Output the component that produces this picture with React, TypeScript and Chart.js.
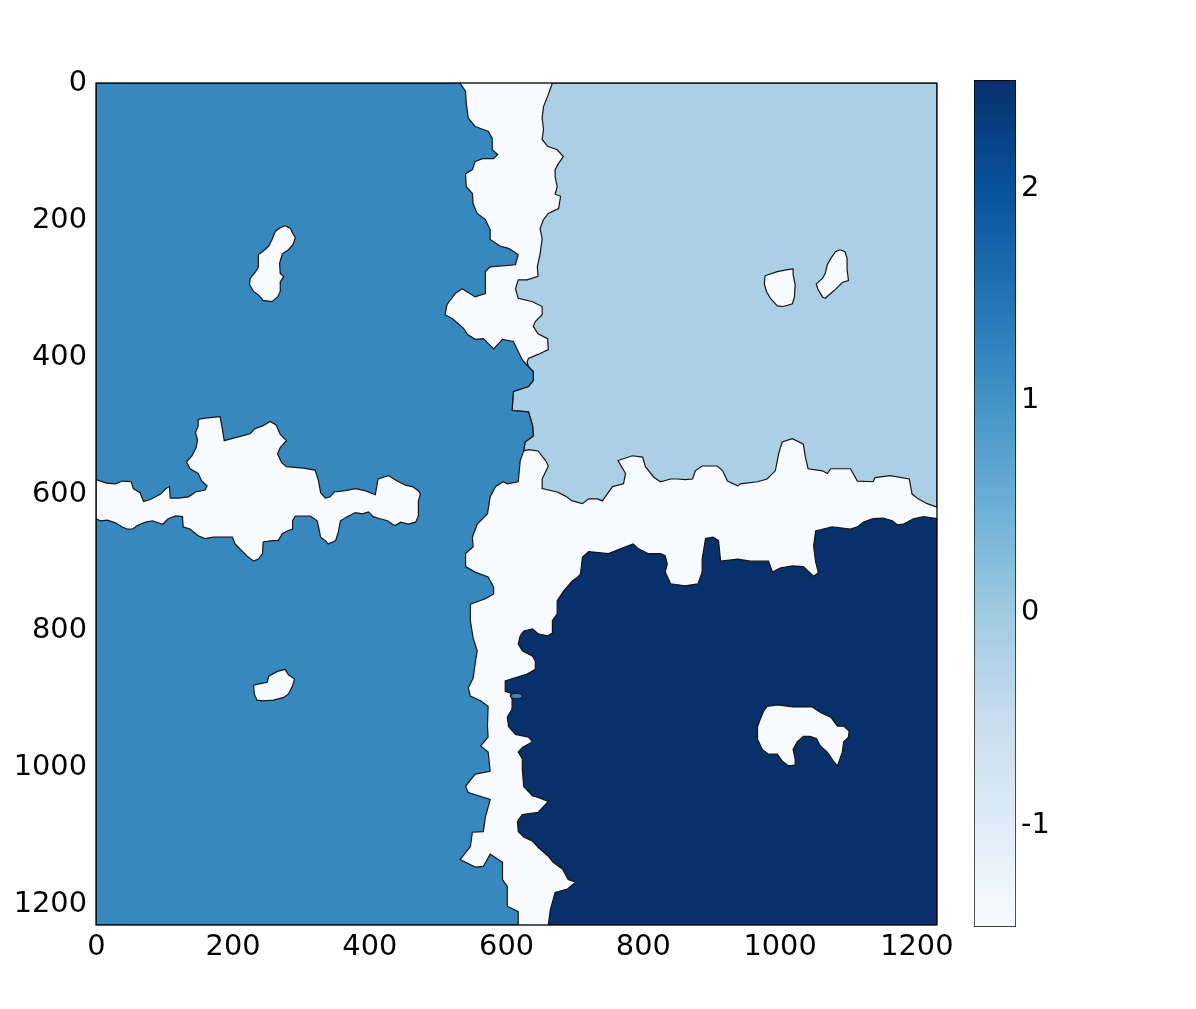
import React, { useEffect, useRef } from 'react';
import { Chart, registerables } from 'chart.js';

Chart.register(...registerables);

// ---- axes / colour scale ----
const X_TICKS = [0, 200, 400, 600, 800, 1000, 1200];
const Y_TICKS = [0, 200, 400, 600, 800, 1000, 1200];
const CB_TICKS = [-1, 0, 1, 2];
const CB_MIN = -1.48;
const CB_MAX = 2.51;
const IMG_MIN = -0.5;
const IMG_MAX = 1229.5;
const BLUES = ['#f7fbff', '#deebf7', '#c6dbef', '#9ecae1', '#6baed6', '#4292c6', '#2171b5', '#08519c', '#08306b'];

const LEFT_COLOR = '#3888c0';
const UPPER_RIGHT_COLOR = '#abcfe4';
const LOWER_RIGHT_COLOR = '#08306b';
const BOUNDARY_COLOR = '#f7fbff';

// ---- segmented regions (image pixel coordinates) ----
const LEFT_REGION: number[][] = [
  [-0.5, -0.5], [532, -0.5], [540, 12], [541, 29], [544, 51], [554, 63], [565, 67], [573, 70], [579, 80], [579, 97],
  [587, 104], [581, 110], [565, 110], [554, 114], [550, 126], [540, 132], [541, 151], [550, 161], [551, 176], [557, 190],
  [569, 199], [576, 214], [576, 228], [591, 238], [603, 241], [617, 250], [613, 265], [576, 268], [569, 275], [569, 307],
  [554, 312], [535, 300], [525, 307], [513, 323], [510, 338], [521, 344], [537, 358], [543, 367], [554, 374], [566, 373],
  [581, 388], [594, 374], [610, 377], [623, 404], [632, 414],
  [639, 421], [639, 434], [632, 443], [610, 450], [608, 478], [632, 480], [638, 500], [639, 515], [627, 524], [625, 537],
  [620, 551], [617, 582], [601, 585], [595, 582], [584, 589], [576, 604], [572, 629], [557, 644], [550, 663], [551, 677],
  [540, 687], [540, 706], [554, 714], [573, 721], [581, 736], [581, 746], [569, 753], [547, 761], [547, 785], [551, 810],
  [557, 829], [554, 848], [551, 869], [544, 883], [547, 895], [562, 902], [573, 910], [572, 939], [573, 955], [562, 968],
  [573, 977], [576, 1005], [554, 1009], [540, 1027], [544, 1036], [576, 1046], [569, 1072], [566, 1093], [550, 1094],
  [547, 1115], [532, 1134], [554, 1145], [566, 1144], [576, 1126], [594, 1138], [594, 1163], [601, 1173], [601, 1202],
  [617, 1210], [617, 1229.5], [-0.5, 1229.5],
];

const UPPER_RIGHT_REGION: number[][] = [
  [667, -0.5], [1229.5, -0.5], [1229.5, 619], [1215, 614], [1202, 607], [1193, 600], [1189, 578], [1161, 573], [1139, 576],
  [1136, 582], [1113, 581], [1103, 563], [1074, 563], [1069, 570], [1062, 566], [1041, 563], [1037, 546], [1034, 527],
  [1018, 519], [1003, 524], [998, 541], [993, 566], [981, 578], [967, 582], [942, 585], [938, 588], [923, 581], [916, 566],
  [908, 559], [886, 559], [876, 566], [872, 578], [861, 579], [850, 578], [840, 578], [825, 582], [815, 575], [803, 560],
  [799, 546], [784, 544], [763, 551], [774, 570], [771, 585], [755, 589], [740, 610], [733, 607], [720, 607], [711, 614],
  [696, 610], [686, 603], [674, 597], [652, 592], [652, 578], [661, 559], [657, 551], [646, 537], [632, 535], [625, 537],
  [627, 524], [639, 515], [638, 500], [632, 480], [608, 478], [610, 450], [632, 443], [639, 434], [639, 421], [632, 414],
  [630, 407], [632, 402], [646, 396], [661, 389], [660, 373], [646, 366], [639, 355], [642, 348], [652, 338], [652, 326],
  [638, 319], [617, 314], [613, 300], [617, 287], [630, 287], [646, 282], [645, 268], [649, 249], [652, 227], [649, 212],
  [654, 199], [661, 190], [676, 183], [679, 165], [671, 162], [674, 151], [671, 136], [671, 126], [676, 117], [683, 107],
  [674, 97], [660, 92], [652, 82], [654, 67], [652, 51], [654, 34], [660, 19],
];

const LOWER_RIGHT_REGION: number[][] = [
  [661, 1229.5], [664, 1207], [671, 1182], [689, 1177], [701, 1167], [690, 1163], [682, 1148], [668, 1138], [661, 1129],
  [646, 1116], [638, 1107], [625, 1101], [617, 1093], [616, 1078], [623, 1068], [646, 1065], [661, 1049], [646, 1043],
  [638, 1041], [625, 1027], [623, 1002], [623, 987], [617, 977], [623, 970], [638, 962], [632, 955], [613, 951], [603, 940],
  [601, 926], [608, 914], [608, 900], [606, 891], [598, 888], [598, 873], [610, 869], [630, 863], [642, 856], [642, 844],
  [638, 837], [623, 829], [617, 819], [620, 807], [625, 800], [638, 797], [646, 804], [660, 807], [667, 803], [667, 785],
  [674, 775], [674, 756], [683, 742], [696, 727], [704, 721], [708, 717], [711, 692], [720, 684], [749, 687], [759, 683],
  [774, 677], [785, 673], [793, 680], [807, 687], [825, 687], [832, 690], [835, 702], [832, 714], [840, 731], [861, 734],
  [880, 731], [886, 714], [886, 695], [891, 665], [902, 663], [910, 668], [913, 698], [938, 695], [957, 698], [983, 698],
  [989, 714], [1000, 708], [1018, 705], [1034, 706], [1049, 720], [1056, 715], [1052, 699], [1049, 676], [1052, 654],
  [1063, 651], [1076, 648], [1103, 651], [1113, 648], [1122, 641], [1136, 636], [1151, 635], [1164, 639], [1172, 645],
  [1180, 644], [1195, 636], [1210, 633], [1229.5, 636], [1229.5, 1229.5],
];

// ---- unlabelled (boundary-valued) islands ----
const ISLAND_A: number[][] = [
  [276, 208], [284, 212], [287, 219], [291, 225], [288, 235], [281, 243], [272, 249], [268, 263], [269, 278], [274, 282],
  [269, 290], [269, 304], [265, 312], [257, 319], [244, 317], [237, 309], [230, 304], [224, 294], [225, 285], [233, 275],
  [237, 268], [237, 250], [243, 246], [252, 238], [257, 228], [262, 216], [269, 211],
];

const ISLAND_B: number[][] = [
  [230, 879], [250, 875], [252, 866], [265, 859], [276, 856], [281, 864], [290, 870], [287, 880], [281, 892], [274, 897],
  [259, 901], [244, 902], [235, 901], [231, 892],
];

const ISLAND_C: number[][] = [
  [978, 281], [996, 275], [1011, 272], [1019, 271], [1019, 279], [1022, 294], [1021, 312], [1018, 322], [1005, 326],
  [996, 325], [986, 314], [980, 304], [977, 293],
];

const ISLAND_D: number[][] = [
  [1088, 243], [1095, 246], [1098, 256], [1098, 272], [1100, 288], [1091, 291], [1081, 301], [1074, 307], [1066, 314],
  [1062, 312], [1055, 300], [1053, 293], [1062, 285], [1066, 278], [1069, 265], [1074, 256], [1081, 246],
];

const ISLAND_E: number[][] = [
  [981, 910], [996, 908], [1019, 911], [1047, 911], [1059, 919], [1074, 926], [1084, 939], [1093, 939], [1101, 946],
  [1100, 955], [1093, 962], [1091, 977], [1084, 997], [1078, 990], [1069, 977], [1059, 968], [1053, 957], [1044, 954],
  [1034, 954], [1025, 962], [1019, 973], [1022, 987], [1022, 996], [1012, 997], [1003, 990], [996, 980], [983, 980],
  [974, 973], [967, 958], [967, 940], [971, 929], [976, 917],
];

const BAND_F: number[][] = [
  [-0.5, 579], [6, 581], [15, 584], [28, 585], [38, 581], [51, 582], [54, 592], [64, 598], [69, 611], [79, 608], [94, 600],
  [102, 592], [107, 589], [108, 606], [120, 606], [135, 604], [145, 597], [159, 594], [162, 588], [154, 581], [149, 570],
  [137, 563], [132, 553], [140, 544], [146, 532], [148, 521], [145, 510], [149, 500], [149, 491], [159, 489], [181, 487],
  [184, 503], [187, 522], [202, 518], [225, 512], [231, 505], [244, 500], [254, 494], [263, 499], [269, 513], [278, 522],
  [269, 532], [265, 541], [271, 554], [278, 560], [303, 562], [320, 565], [325, 581], [328, 598], [335, 606], [342, 604],
  [348, 597], [364, 595], [379, 592], [393, 595], [408, 601], [412, 578], [427, 573], [440, 581], [452, 587], [462, 589],
  [471, 595], [474, 600], [471, 610], [471, 632], [467, 641], [456, 644], [445, 641], [437, 646], [433, 644], [426, 639],
  [415, 636], [405, 633], [398, 626], [389, 629], [379, 627], [367, 633], [357, 639], [354, 655], [350, 668], [339, 673],
  [335, 668], [328, 663], [325, 648], [323, 639], [313, 632], [291, 632], [287, 639], [287, 651], [279, 654], [272, 658],
  [266, 668], [257, 668], [244, 670], [243, 687], [237, 695], [230, 698], [222, 692], [214, 684], [203, 673], [199, 663],
  [186, 663], [171, 663], [159, 665], [149, 661], [137, 651], [127, 648], [126, 633], [116, 632], [105, 636], [97, 644],
  [82, 639], [72, 641], [60, 646], [53, 651], [45, 651], [38, 648], [28, 642], [16, 638], [6, 639], [-0.5, 636],
];

const SPOT_G: number[][] = [
  [605, 895], [608, 892], [614, 891], [621, 892], [624, 895], [621, 898], [614, 899], [608, 898],
];

const FONT = { family: '"DejaVu Sans", sans-serif', size: 28.8 };

function polygon(points: number[][], color: string, order: number) {
  const closed = points.concat([points[0]]);
  return {
    data: closed.map(([x, y]) => ({ x, y })),
    showLine: true,
    fill: 'shape',
    backgroundColor: color,
    borderColor: '#141414',
    borderWidth: 1.2,
    pointRadius: 0,
    pointHoverRadius: 0,
    tension: 0,
    order,
    clip: 0,
  };
}

const plotFrame = {
  id: 'plotFrame',
  beforeDraw(chart: any) {
    const { ctx, chartArea: a, width, height } = chart;
    ctx.save();
    ctx.fillStyle = '#ffffff';
    ctx.fillRect(0, 0, width, height);
    ctx.fillStyle = BOUNDARY_COLOR;
    ctx.fillRect(a.left, a.top, a.right - a.left, a.bottom - a.top);
    ctx.restore();
  },
  afterDatasetsDraw(chart: any) {
    const { ctx, chartArea: a } = chart;
    ctx.save();
    ctx.strokeStyle = '#000000';
    ctx.lineWidth = 1.3;
    ctx.strokeRect(a.left, a.top, a.right - a.left, a.bottom - a.top);
    ctx.restore();
  },
};

const cbBackground = {
  id: 'cbBackground',
  beforeDraw(chart: any) {
    const { ctx, width, height } = chart;
    ctx.save();
    ctx.fillStyle = '#ffffff';
    ctx.fillRect(0, 0, width, height);
    ctx.restore();
  },
};

export default function App() {
  const mainRef = useRef<HTMLCanvasElement>(null);
  const cbRef = useRef<HTMLCanvasElement>(null);

  useEffect(() => {
    const main = new Chart(mainRef.current as HTMLCanvasElement, {
      type: 'scatter',
      data: {
        datasets: [
          polygon(SPOT_G, LEFT_COLOR, 1),
          polygon(ISLAND_A, BOUNDARY_COLOR, 2),
          polygon(ISLAND_B, BOUNDARY_COLOR, 2),
          polygon(ISLAND_C, BOUNDARY_COLOR, 2),
          polygon(ISLAND_D, BOUNDARY_COLOR, 2),
          polygon(ISLAND_E, BOUNDARY_COLOR, 2),
          polygon(BAND_F, BOUNDARY_COLOR, 2),
          polygon(LEFT_REGION, LEFT_COLOR, 3),
          polygon(UPPER_RIGHT_REGION, UPPER_RIGHT_COLOR, 3),
          polygon(LOWER_RIGHT_REGION, LOWER_RIGHT_COLOR, 3),
        ] as any,
      },
      options: {
        responsive: false,
        animation: false,
        events: [],
        layout: { padding: { left: 0, top: 83, right: 23, bottom: 0 } },
        plugins: { legend: { display: false }, tooltip: { enabled: false } },
        scales: {
          x: {
            type: 'linear',
            min: IMG_MIN,
            max: IMG_MAX,
            grid: { display: false, drawTicks: false },
            border: { display: false },
            afterFit: (s: any) => { s.height = 84; },
            afterBuildTicks: (s: any) => { s.ticks = X_TICKS.map((v) => ({ value: v })); },
            ticks: { autoSkip: false, maxRotation: 0, padding: 5, color: '#000', font: FONT, callback: (v: any) => String(v) },
          },
          y: {
            type: 'linear',
            reverse: true,
            min: IMG_MIN,
            max: IMG_MAX,
            grid: { display: false, drawTicks: false },
            border: { display: false },
            afterFit: (s: any) => { s.width = 96; },
            afterBuildTicks: (s: any) => { s.ticks = Y_TICKS.map((v) => ({ value: v })); },
            ticks: { autoSkip: false, padding: 9, color: '#000', font: FONT, callback: (v: any) => String(v) },
          },
        },
      } as any,
      plugins: [plotFrame],
    });

    const cb = new Chart(cbRef.current as HTMLCanvasElement, {
      type: 'bar',
      data: {
        labels: [''],
        datasets: [
          {
            data: [[CB_MIN, CB_MAX]],
            backgroundColor: (c: any) => {
              const chart = c.chart;
              const a = chart.chartArea;
              if (!a) return BLUES[4];
              const g = chart.ctx.createLinearGradient(0, a.bottom, 0, a.top);
              BLUES.forEach((col, i) => g.addColorStop(i / (BLUES.length - 1), col));
              return g;
            },
            borderColor: '#000',
            borderWidth: 1,
            borderSkipped: false,
            barPercentage: 1,
            categoryPercentage: 1,
          },
        ] as any,
      },
      options: {
        responsive: false,
        animation: false,
        events: [],
        layout: { padding: { left: 14, top: 80, right: 0, bottom: 82 } },
        plugins: { legend: { display: false }, tooltip: { enabled: false } },
        scales: {
          x: { display: false },
          y: {
            position: 'right',
            min: CB_MIN,
            max: CB_MAX,
            grid: { display: false, drawTicks: false },
            border: { display: false },
            afterFit: (s: any) => { s.width = 180; },
            afterBuildTicks: (s: any) => { s.ticks = CB_TICKS.map((v) => ({ value: v })); },
            ticks: { autoSkip: false, padding: 5, color: '#000', font: FONT, callback: (v: any) => String(v) },
          },
        },
      } as any,
      plugins: [cbBackground],
    });

    return () => {
      main.destroy();
      cb.destroy();
    };
  }, []);

  return (
    <div style={{ position: 'absolute', left: 0, top: 0, width: 1196, height: 1009, background: '#fff' }}>
      <canvas ref={mainRef} width={960} height={1009} style={{ position: 'absolute', left: 0, top: 0, width: 960, height: 1009 }} />
      <canvas ref={cbRef} width={236} height={1009} style={{ position: 'absolute', left: 960, top: 0, width: 236, height: 1009 }} />
    </div>
  );
}
